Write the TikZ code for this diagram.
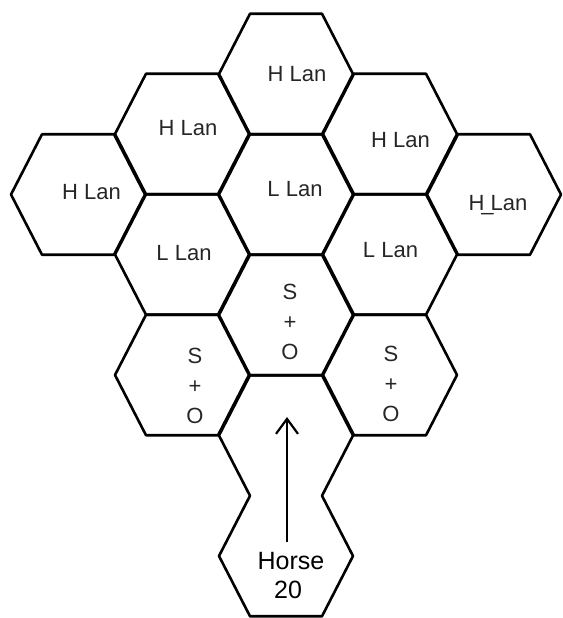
\documentclass[tikz,border=0pt]{standalone}
\usepackage{fontspec}
\setmainfont{Liberation Sans}
\usetikzlibrary{arrows.meta}
\tikzset{
  hexline/.style={line width=2.6pt, line join=round, black},
  hexcell/.pic={\draw[hexline] (-67,0) -- (-36,-60.25) -- (36,-60.25) -- (67,0) -- (36,60.25) -- (-36,60.25) -- cycle;},
  lbl/.style={inner sep=0pt, font=\fontsize{22}{30}\selectfont, text=black!85, align=center},
  hand/.style={inner sep=0pt, font=\fontsize{25}{30}\selectfont, text=black},
  arrowline/.style={line width=2.2pt, -{Straight Barb[length=15pt,width=22pt,line width=2.2pt]}}
}
\begin{document}
\begin{tikzpicture}[x=1pt,y=-1pt]
\useasboundingbox (0,0) rectangle (562,618);
% hexes
\pic at (78,194.5) {hexcell};
\pic at (182,134) {hexcell};
\pic at (182,254.5) {hexcell};
\pic at (182,375) {hexcell};
\pic at (286,74) {hexcell};
\pic at (286,194.5) {hexcell};
\pic at (286,315) {hexcell};
\pic at (390,134) {hexcell};
\pic at (390,254.5) {hexcell};
\pic at (390,375) {hexcell};
\pic at (494,194.5) {hexcell};
% merged double hex at the bottom
\draw[hexline] (250,375.25) -- (322,375.25) -- (353,435.5) -- (322,495.75) -- (353,556)
  -- (322,616.25) -- (250,616.25) -- (219,556) -- (250,495.75) -- (219,435.5) -- cycle;
% labels
\node[lbl] (t1) at (297,74) {H Lan};
\node[lbl] (t2) at (188,128) {H Lan};
\node[lbl] (t3) at (91.5,192) {H Lan};
\node[lbl] (t4) at (295,189) {L Lan};
\node[lbl] (t5) at (400.5,140) {H Lan};
\node[lbl] (t6) at (498,205) {H\kern-3pt\_\kern-3pt Lan};
\node[lbl] (t7) at (184,253) {L Lan};
\node[lbl] (t8) at (390.5,250) {L Lan};
\node[lbl] (so1) at (290,322) {S\\+\\O};
\node[lbl] (so2) at (195,386) {S\\+\\O};
\node[lbl] (so3) at (391,384) {S\\+\\O};
\node[hand] (horse) at (291,561) {Horse};
\node[hand] (twenty) at (288,590) {20};
\coordinate (abot) at (287,542);
\coordinate (atip) at (287,417);
\draw[arrowline] (abot) -- (atip);
\end{tikzpicture}
\end{document}
